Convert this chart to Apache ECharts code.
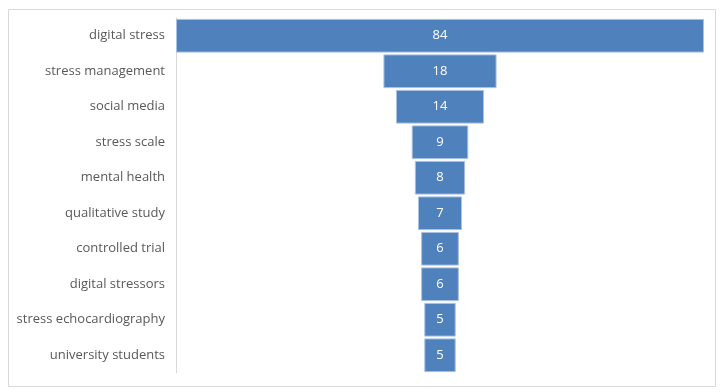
<!DOCTYPE html>
<html><head><meta charset="utf-8">
<script src="https://cdn.jsdelivr.net/npm/echarts@6/dist/echarts.min.js"></script>
<style>html,body{margin:0;padding:0;background:#fff}#c{width:720px;height:392px}</style>
</head><body><div id="c"></div>
<script>
var categories = ["digital stress","stress management","social media","stress scale","mental health","qualitative study","controlled trial","digital stressors","stress echocardiography","university students"];
var values = [84,18,14,9,8,7,6,6,5,5];

var maxV = Math.max.apply(null, values);
var offsets = values.map(function(v){ return (maxV - v) / 2; });

var chart = echarts.init(document.getElementById('c'), null, {renderer:'canvas'});
chart.setOption({
  animation: false,
  backgroundColor: '#ffffff',
  graphic: [{
    type: 'rect', left: 6, top: 7, silent: true,
    shape: {width: 707, height: 377},
    style: {fill: 'none', stroke: '#d9d9d9', lineWidth: 1}
  }],
  grid: {left: 176, right: 16, top: 18, bottom: 19, containLabel: false},
  xAxis: {type: 'value', min: 0, max: maxV, show: false},
  yAxis: {
    type: 'category', data: categories, inverse: true,
    axisLine: {show: true, lineStyle: {color: '#d9d9d9', width: 1}},
    axisTick: {show: false},
    axisLabel: {color: '#595959', fontSize: 13, fontFamily: 'Open Sans', margin: 11, padding: [3,0,0,0]}
  },
  series: [{
    type: 'bar', stack: 'f', data: offsets, silent: true,
    itemStyle: {color: 'rgba(0,0,0,0)'}, barCategoryGap: '5%'
  },{
    type: 'bar', stack: 'f', data: values, barCategoryGap: '5%',
    itemStyle: {color: '#4f81bd', borderColor: '#a9c1e0', borderWidth: 1},
    label: {show: true, position: 'inside', color: '#ffffff', fontSize: 13, fontFamily: 'Open Sans'}
  }]
});
</script></body></html>
